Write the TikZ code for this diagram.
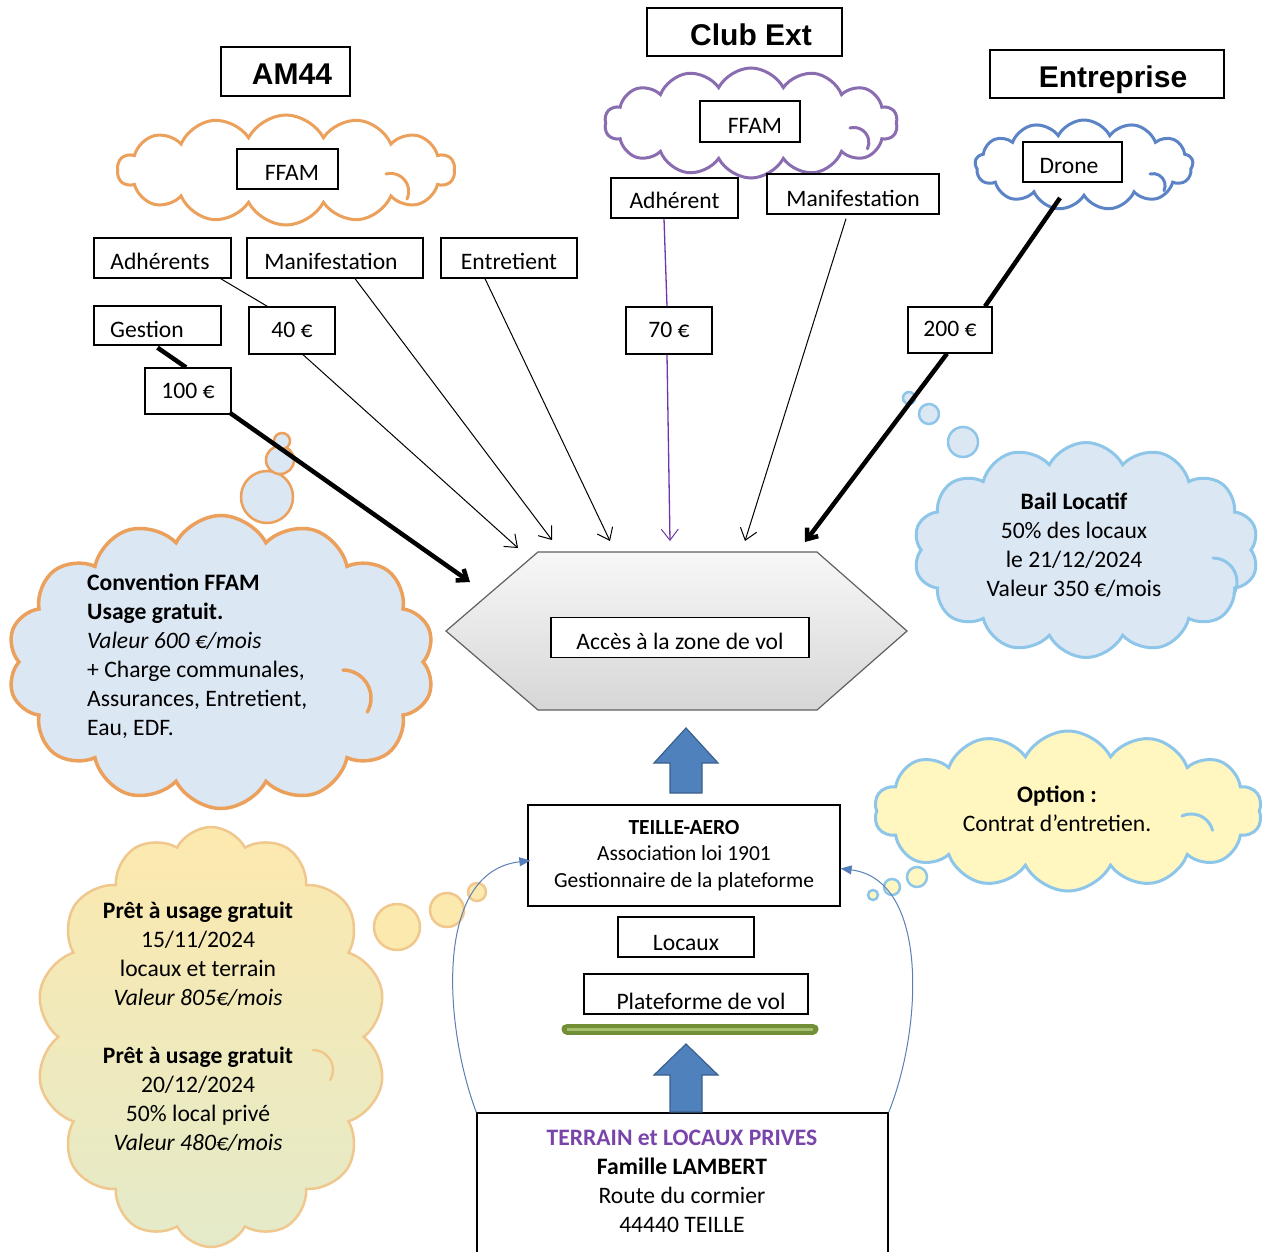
\documentclass[tikz,border=0pt]{standalone}
\usepackage{fontspec}
\setmainfont{Carlito}
\newfontfamily\titlefont{Liberation Sans}
\usetikzlibrary{shapes.symbols,shapes.geometric,arrows.meta,calc}
\definecolor{orangeC}{HTML}{EBA05C}
\definecolor{purpleC}{HTML}{8A6DB0}
\definecolor{blueC}{HTML}{5B83C6}
\definecolor{lblueC}{HTML}{8DC6E8}
\definecolor{cfill}{HTML}{DCE7F4}
\definecolor{yfill}{HTML}{FFF6C0}
\definecolor{ytop}{HTML}{FCE9AE}
\definecolor{ybot}{HTML}{E4EAC9}
\definecolor{tanC}{HTML}{F0C88E}
\definecolor{purpleT}{HTML}{7A45AA}
\definecolor{purpleL}{HTML}{7035A8}
\definecolor{barrow}{HTML}{4F81BD}
\definecolor{barrowD}{HTML}{3A608F}
\definecolor{curveC}{HTML}{5B7FB5}
\definecolor{greenD}{HTML}{728F38}
\definecolor{greenL}{HTML}{A6BF6E}
\newcommand\bodyfs{\fontsize{23.6}{29}\selectfont}
\newcommand\smallfs{\fontsize{21.5}{26.5}\selectfont}
\newcommand\titlefs{\titlefont\bfseries\fontsize{30}{36}\selectfont}
\begin{document}
\begin{tikzpicture}[x=1pt,y=-1pt,
  bx/.style={draw, line width=1.3pt, fill=white, inner sep=0pt, font=\bodyfs, text height=23pt, text depth=0pt},
  titlebx/.style={draw, line width=1.3pt, fill=white, inner sep=0pt, font=\titlefs, text height=26pt, text depth=0pt},
  txt/.style={inner sep=0pt, font=\bodyfs, align=center},
  cloudbase/.style={cloud, cloud puffs=14, cloud puff arc=125, cloud ignores aspect, inner sep=0pt, line width=3pt},
  inarc/.style={line width=3pt, line cap=round},
  bubble/.style={circle, inner sep=0pt, line width=2.5pt},
  thinl/.style={line width=1pt, -{Straight Barb[length=11pt,width=17pt,line width=1pt]}},
  thinp/.style={line width=1pt},
  thickl/.style={line width=4.5pt},
  thicka/.style={line width=4.5pt, -{Straight Barb[length=9pt,width=14pt]}},
  curvea/.style={line width=1pt, draw=curveC, -{Triangle[length=11pt,width=9pt,fill=barrow]}},
  blockarrow/.style={fill=barrow, draw=barrowD, line width=1.2pt}
]
\useasboundingbox (0,0) rectangle (1267,1251);
\clip (0,0) rectangle (1267,1251);
\fill[white] (0,0) rectangle (1267,1251);

% ---- top clouds
\node[cloudbase, draw=orangeC, fill=white, minimum width=337, minimum height=110] (c1) at (286,170) {};
\node[cloudbase, draw=purpleC, fill=white, minimum width=293, minimum height=110] (c2) at (751,123) {};
\node[cloudbase, cloud puffs=13, draw=blueC, fill=white, minimum width=218, minimum height=90] (c3) at (1084,165) {};
\draw[inarc, draw=orangeC] (386,174) arc[start angle=255, end angle=385, radius=18];
\draw[inarc, draw=purpleC] (850,128) arc[start angle=255, end angle=385, radius=15];
\draw[inarc, draw=blueC] (1150,174) arc[start angle=255, end angle=385, radius=12];

% ---- titles
\node[titlebx, minimum width=129, minimum height=49] (am44) at (285.5,71.5) {\hspace*{13pt}AM44};
\node[titlebx, minimum width=195, minimum height=48] (clubext) at (744.5,32) {\hspace*{13pt}Club Ext};
\node[titlebx, minimum width=234, minimum height=48] (entreprise) at (1107,74) {\hspace*{12pt}Entreprise};

% ---- boxes
\node[bx, minimum width=101, minimum height=40] (ffam1) at (287.5,169) {\hspace*{9pt}FFAM};
\node[bx, minimum width=100, minimum height=41] (ffam2) at (750,121.5) {\hspace*{10pt}FFAM};
\node[bx, minimum width=99, minimum height=40] (drone) at (1072.5,162) {Drone\hspace*{7pt}};
\node[bx, minimum width=137, minimum height=40] (adh) at (162.5,258) {Adhérents\hspace*{5pt}};
\node[bx, minimum width=176, minimum height=40] (manif1) at (335,258) {Manifestation\hspace*{8pt}};
\node[bx, minimum width=136, minimum height=40] (entr) at (509,258) {Entretient};
\node[bx, minimum width=127, minimum height=39] (gestion) at (157.5,325.5) {Gestion\hspace*{21pt}};
\node[bx, minimum width=86, minimum height=47, text height=13pt] (p40) at (292,330.5) {40 €};
\node[bx, minimum width=86, minimum height=46, text height=15pt] (p100) at (188,391) {100 €};
\node[bx, minimum width=127, minimum height=40, text height=21pt] (adh2) at (674.5,198) {Adhérent};
\node[bx, minimum width=172, minimum height=40, text height=25pt] (manif2) at (853,194) {Manifestation};
\node[bx, minimum width=86, minimum height=47, text height=13pt] (p70) at (669,330.5) {70 €};
\node[bx, minimum width=84, minimum height=46, text height=13pt] (p200) at (950,330) {200 €};

% ---- thought clouds
\node[bubble, draw=orangeC, fill=cfill, minimum size=52] (b1a) at (267,497) {};
\node[bubble, draw=orangeC, fill=cfill, minimum size=28] (b1b) at (280,460) {};
\node[bubble, draw=orangeC, fill=cfill, minimum size=16] (b1c) at (282,441) {};
\node[cloudbase, draw=orangeC, fill=cfill, line width=3.5pt, minimum width=427, minimum height=293] (conv) at (221,662) {};
\draw[inarc, draw=orangeC, line width=3.5pt] (343,670) arc[start angle=270, end angle=390, radius=28];
\node[txt, align=left, anchor=west] (convt) at (87,656) {\textbf{Convention FFAM}\\\textbf{Usage gratuit.}\\\textit{Valeur 600 €/mois}\\+ Charge communales,\\Assurances, Entretient,\\Eau, EDF.};

\node[bubble, draw=lblueC, fill=cfill, minimum size=30] (b2a) at (963,442) {};
\node[bubble, draw=lblueC, fill=cfill, minimum size=20] (b2b) at (929,414) {};
\node[bubble, draw=lblueC, fill=cfill, minimum size=12] (b2c) at (909,398) {};
\node[cloudbase, draw=lblueC, fill=cfill, minimum width=345, minimum height=215] (bail) at (1086,550) {};
\draw[inarc, draw=lblueC] (1213,558) arc[start angle=270, end angle=390, radius=24];
\node[txt] (bailt) at (1074,545) {\textbf{Bail Locatif}\\50\% des locaux\\le 21/12/2024\\Valeur 350 €/mois};

\node[bubble, draw=lblueC, fill=yfill, minimum size=20] (b3a) at (917,877) {};
\node[bubble, draw=lblueC, fill=yfill, minimum size=16] (b3b) at (892,887) {};
\node[bubble, draw=lblueC, fill=yfill, minimum size=10] (b3c) at (873,895) {};
\node[cloudbase, draw=lblueC, fill=yfill, minimum width=388, minimum height=160] (opt) at (1068,811) {};
\draw[inarc, draw=lblueC] (1182,816) arc[start angle=245, end angle=345, radius=22];
\node[txt] (optt) at (1057,809) {\textbf{Option :}\\Contrat d’entretien.};

\node[bubble, draw=tanC, fill=ytop, minimum size=46] (b4a) at (397,927) {};
\node[bubble, draw=tanC, fill=ytop, minimum size=34] (b4b) at (447,910) {};
\node[bubble, draw=tanC, fill=ytop, minimum size=18] (b4c) at (477,892) {};
\node[cloudbase, draw=tanC, top color=ytop, bottom color=ybot, line width=2.5pt, minimum width=350, minimum height=420] (pret) at (211,1037) {};
\draw[inarc, draw=tanC, line width=2.5pt] (313,1050) arc[start angle=270, end angle=390, radius=20];
\node[txt] (prett) at (198,1027) {\textbf{Prêt à usage gratuit}\\15/11/2024\\locaux et terrain\\\textit{Valeur 805€/mois}\\[29pt]\textbf{Prêt à usage gratuit}\\20/12/2024\\50\% local privé\\\textit{Valeur 480€/mois}};

% ---- hexagon
\path[draw=gray!75!black, line width=1.2pt, top color=gray!6, bottom color=gray!32]
  (446,631) -- (538,552) -- (817,552) -- (907,631) -- (817,710) -- (538,710) -- cycle;
\node[bx, minimum width=258, minimum height=40, text height=24pt] (acces) at (680,637.5) {Accès à la zone de vol};

% ---- free arrow ends
\coordinate (tA) at (518,548);
\coordinate (tB) at (552,540);
\coordinate (tC) at (610,541);
\coordinate (tD) at (670,541);
\coordinate (tE) at (745,541);
\coordinate (tF) at (470,582);
\coordinate (tG) at (805,542);

% ---- connectors
\draw[thinp] ($(adh.south east)+(-11,0)$) -- ($(p40.north west)+(19,0)$);
\draw[thinl] ($(p40.south)+(11,0)$) -- (tA);
\draw[thinl] ($(manif1.south)+(20,0)$) -- (tB);
\draw[thinl] ($(entr.south)+(-24,0)$) -- (tC);
\draw[thinp, draw=purpleL, line width=1.3pt] ($(adh2.south)+(-10.5,0)$) -- ($(p70.north)+(-2,0)$);
\draw[thinl, draw=purpleL, line width=1.3pt] ($(p70.south)+(-2,0)$) -- (tD);
\draw[thinl] ($(manif2.south)+(-7,4)$) -- (tE);
\draw[thickl] ($(gestion.south)+(0,2)$) -- ($(p100.north)+(-2,0)$);
\draw[thicka] ($(p100.south east)+(-2,-2)$) -- (tF);
\draw[thickl] ($(c3.south)+(-24,0)$) -- ($(p200.north)+(35,0)$);
\draw[thicka] ($(p200.south)+(-3,0)$) -- (tG);

% ---- lower stack
\node[draw, line width=1.3pt, fill=white, inner sep=0pt, minimum width=312, minimum height=101, font=\smallfs, align=center] (teille) at (684,855.5) {\textbf{TEILLE-AERO}\\Association loi 1901\\Gestionnaire de la plateforme};
\node[bx, minimum width=136, minimum height=40, text height=27pt] (locaux) at (686,937) {Locaux};
\node[bx, minimum width=224, minimum height=40, text height=30pt] (plat) at (696,994) {\hspace*{10pt}Plateforme de vol};
\draw[line width=11pt, draw=greenD, line cap=round] (567,1029) -- (813,1029);
\draw[line width=3pt, draw=greenL] (567,1029) -- (813,1029);
\node[draw, line width=1.3pt, fill=white, inner sep=0pt, minimum width=411, minimum height=150] (terrain) at (682.5,1188) {};
\node[txt] (terraint) at (682,1181) {\textcolor{purpleT}{\textbf{TERRAIN et LOCAUX PRIVES}}\\\textbf{Famille LAMBERT}\\Route du cormier\\44440 TEILLE};

% ---- block arrows
\path[blockarrow] (686,728) -- (718,763) -- (702,763) -- (702,793) -- (670,793) -- (670,763) -- (654,763) -- cycle;
\path[blockarrow] (686,1044) -- (718,1075) -- (702,1075) -- (702,1112) -- (670,1112) -- (670,1075) -- (654,1075) -- cycle;

% ---- curved arrows
\draw[curvea] (terrain.north west) .. controls (445,1030) and (432,872) .. ($(teille.west)+(3,5)$);
\draw[curvea] (terrain.north east) .. controls (922,1030) and (930,880) .. ($(teille.east)+(0,13)$);
\end{tikzpicture}
\end{document}
